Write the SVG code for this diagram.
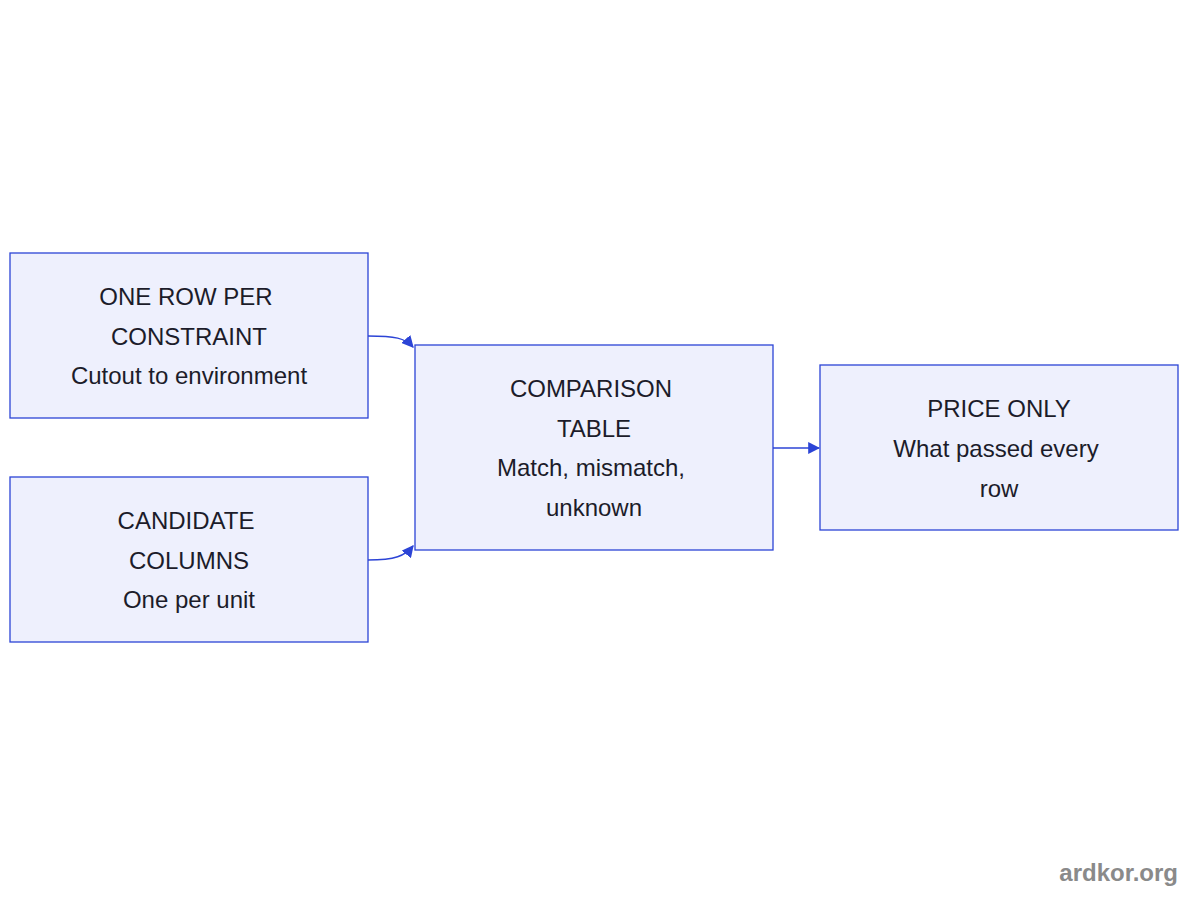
<svg xmlns="http://www.w3.org/2000/svg" width="1200" height="900" viewBox="0 0 1200 900">
<style>
.n{fill:#eef0fd;stroke:#2c44d6;stroke-width:1.3}
.t{font-family:"Liberation Sans",Arial,sans-serif;font-size:24px;fill:#1c1c2a;text-anchor:middle}
.e{fill:none;stroke:#2c44d6;stroke-width:1.5}
</style>
<defs><marker id="a" viewBox="0 0 10 10" refX="9" refY="5" markerWidth="8" markerHeight="8" orient="auto"><path d="M0,0L10,5L0,10z" fill="#2c44d6"/></marker></defs>
<rect width="1200" height="900" fill="#fff"/>
<g id="edges">
<path class="e" d="M368,336 C395,336 405,338 413,347" marker-end="url(#a)"/>
<path class="e" d="M368,560 C395,560 405,556 413,546" marker-end="url(#a)"/>
<path class="e" d="M773,448 L819,448" marker-end="url(#a)"/>
</g>
<g id="n1"><rect class="n" x="10" y="253" width="358" height="165"/>
<text class="t" x="186" y="305">ONE ROW PER</text><text class="t" x="189" y="345">CONSTRAINT</text><text class="t" x="189" y="384">Cutout to environment</text></g>
<g id="n2"><rect class="n" x="10" y="477" width="358" height="165"/>
<text class="t" x="186" y="529">CANDIDATE</text><text class="t" x="189" y="569">COLUMNS</text><text class="t" x="189" y="608">One per unit</text></g>
<g id="n3"><rect class="n" x="415" y="345" width="358" height="205"/>
<text class="t" x="591" y="397">COMPARISON</text><text class="t" x="594" y="437">TABLE</text><text class="t" x="591" y="476">Match, mismatch,</text><text class="t" x="594" y="516">unknown</text></g>
<g id="n4"><rect class="n" x="820" y="365" width="358" height="165"/>
<text class="t" x="999" y="417">PRICE ONLY</text><text class="t" x="996" y="457">What passed every</text><text class="t" x="999" y="497">row</text></g>
<text x="1178" y="881" style="font-family:'Liberation Sans',Arial,sans-serif;font-size:24px;font-weight:bold;fill:#8a8a8a;text-anchor:end">ardkor.org</text>
</svg>
